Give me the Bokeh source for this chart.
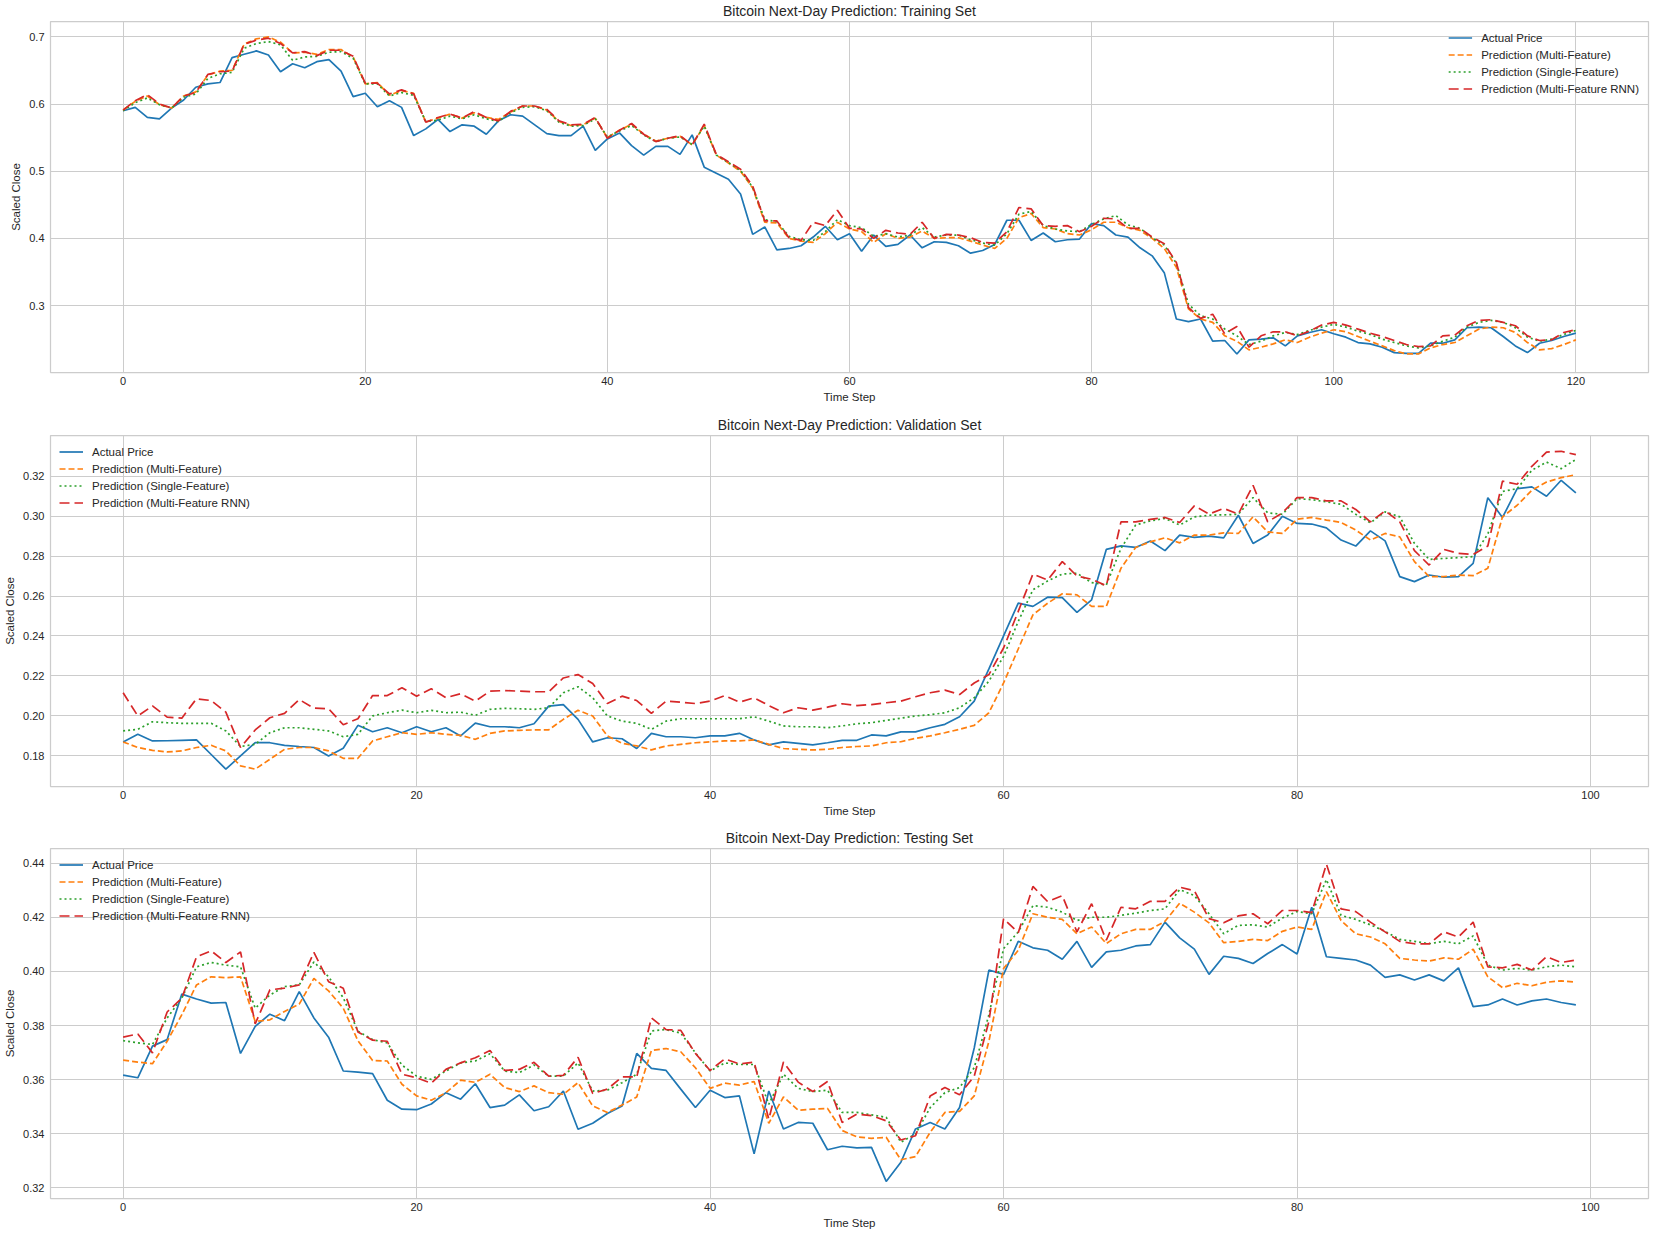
from bokeh.plotting import figure
from bokeh.layouts import column
from bokeh.models import Range1d, FixedTicker, PrintfTickFormatter
from bokeh.embed import file_html
from bokeh.resources import INLINE

# ---------------- data ----------------
train_actual = [
    0.590, 0.595, 0.580, 0.578, 0.594, 0.606, 0.625, 0.630, 0.632, 0.669,
    0.674, 0.679, 0.673, 0.648, 0.660, 0.654, 0.663, 0.666, 0.649, 0.611,
    0.616, 0.596, 0.605, 0.595, 0.553, 0.563, 0.577, 0.559, 0.569, 0.567,
    0.555, 0.575, 0.584, 0.582, 0.569, 0.556, 0.553, 0.553, 0.567, 0.531,
    0.548, 0.557, 0.538, 0.524, 0.537, 0.537, 0.525, 0.554, 0.506, 0.497,
    0.488, 0.466, 0.406, 0.417, 0.383, 0.385, 0.389, 0.402, 0.418, 0.398,
    0.407, 0.381, 0.405, 0.388, 0.391, 0.405, 0.386, 0.395, 0.394, 0.389,
    0.378, 0.382, 0.391, 0.427, 0.427, 0.397, 0.408, 0.395, 0.398, 0.399,
    0.422, 0.419, 0.405, 0.402, 0.386, 0.374, 0.349, 0.280, 0.276, 0.280,
    0.247, 0.248, 0.228, 0.249, 0.250, 0.252, 0.240, 0.255, 0.260, 0.264,
    0.258, 0.253, 0.245, 0.243, 0.238, 0.230, 0.229, 0.229, 0.244, 0.244,
    0.249, 0.267, 0.268, 0.267, 0.254, 0.240, 0.230, 0.244, 0.248, 0.254,
    0.259]
train_multi = [
    0.591, 0.604, 0.612, 0.599, 0.594, 0.612, 0.618, 0.643, 0.649, 0.650,
    0.689, 0.697, 0.700, 0.692, 0.676, 0.677, 0.674, 0.681, 0.681, 0.670,
    0.630, 0.632, 0.613, 0.620, 0.616, 0.573, 0.579, 0.585, 0.579, 0.587,
    0.580, 0.577, 0.588, 0.597, 0.597, 0.591, 0.574, 0.568, 0.569, 0.579,
    0.550, 0.561, 0.570, 0.555, 0.545, 0.549, 0.552, 0.539, 0.568, 0.524,
    0.512, 0.500, 0.475, 0.424, 0.423, 0.400, 0.396, 0.394, 0.407, 0.424,
    0.414, 0.410, 0.394, 0.407, 0.400, 0.402, 0.411, 0.400, 0.401, 0.401,
    0.396, 0.390, 0.385, 0.400, 0.431, 0.437, 0.416, 0.414, 0.407, 0.405,
    0.413, 0.424, 0.424, 0.416, 0.412, 0.400, 0.385, 0.357, 0.295, 0.280,
    0.275, 0.255, 0.247, 0.234, 0.238, 0.243, 0.249, 0.245, 0.253, 0.259,
    0.264, 0.261, 0.254, 0.247, 0.240, 0.233, 0.228, 0.228, 0.237, 0.242,
    0.245, 0.255, 0.265, 0.268, 0.267, 0.260, 0.245, 0.234, 0.236, 0.242,
    0.249]
train_single = [
    0.590, 0.602, 0.609, 0.599, 0.594, 0.610, 0.615, 0.638, 0.645, 0.647,
    0.683, 0.690, 0.693, 0.688, 0.665, 0.670, 0.671, 0.677, 0.678, 0.668,
    0.630, 0.630, 0.612, 0.617, 0.613, 0.574, 0.576, 0.582, 0.578, 0.584,
    0.578, 0.574, 0.587, 0.595, 0.596, 0.590, 0.573, 0.567, 0.568, 0.578,
    0.551, 0.560, 0.568, 0.554, 0.544, 0.549, 0.551, 0.540, 0.567, 0.524,
    0.513, 0.501, 0.476, 0.428, 0.425, 0.403, 0.398, 0.397, 0.410, 0.428,
    0.419, 0.416, 0.403, 0.407, 0.402, 0.405, 0.416, 0.402, 0.405, 0.405,
    0.398, 0.393, 0.390, 0.407, 0.436, 0.440, 0.419, 0.414, 0.411, 0.410,
    0.421, 0.429, 0.434, 0.420, 0.415, 0.401, 0.390, 0.363, 0.302, 0.285,
    0.280, 0.265, 0.255, 0.242, 0.247, 0.255, 0.260, 0.257, 0.263, 0.268,
    0.272, 0.268, 0.262, 0.257, 0.250, 0.245, 0.240, 0.237, 0.240, 0.247,
    0.253, 0.268, 0.275, 0.278, 0.275, 0.267, 0.253, 0.247, 0.250, 0.257,
    0.263]
train_rnn = [
    0.591, 0.605, 0.614, 0.600, 0.594, 0.612, 0.617, 0.644, 0.648, 0.649,
    0.689, 0.695, 0.698, 0.690, 0.676, 0.678, 0.672, 0.680, 0.680, 0.671,
    0.631, 0.631, 0.615, 0.621, 0.615, 0.573, 0.580, 0.585, 0.579, 0.589,
    0.580, 0.575, 0.589, 0.597, 0.597, 0.592, 0.575, 0.569, 0.570, 0.580,
    0.549, 0.561, 0.571, 0.555, 0.544, 0.549, 0.553, 0.539, 0.570, 0.525,
    0.514, 0.503, 0.478, 0.426, 0.426, 0.401, 0.397, 0.424, 0.419, 0.442,
    0.415, 0.414, 0.400, 0.412, 0.408, 0.406, 0.424, 0.400, 0.406, 0.405,
    0.401, 0.394, 0.393, 0.410, 0.446, 0.444, 0.419, 0.418, 0.419, 0.410,
    0.418, 0.430, 0.429, 0.415, 0.415, 0.402, 0.392, 0.364, 0.297, 0.281,
    0.287, 0.258, 0.269, 0.238, 0.255, 0.261, 0.261, 0.255, 0.262, 0.271,
    0.275, 0.271, 0.265, 0.259, 0.254, 0.248, 0.242, 0.239, 0.240, 0.255,
    0.256, 0.270, 0.278, 0.279, 0.275, 0.270, 0.255, 0.248, 0.249, 0.260,
    0.264]

val_actual = [
    0.1870, 0.1908, 0.1875, 0.1876, 0.1878, 0.1880, 0.1807, 0.1734, 0.1800, 0.1866,
    0.1866, 0.1853, 0.1847, 0.1842, 0.1800, 0.1838, 0.1953, 0.1921, 0.1941, 0.1916,
    0.1946, 0.1921, 0.1941, 0.1900, 0.1964, 0.1946, 0.1946, 0.1941, 0.1961, 0.2049,
    0.2057, 0.1983, 0.1870, 0.1891, 0.1886, 0.1837, 0.1913, 0.1896, 0.1896, 0.1891,
    0.1900, 0.1900, 0.1913, 0.1880, 0.1855, 0.1870, 0.1863, 0.1855, 0.1866, 0.1878,
    0.1878, 0.1905, 0.1900, 0.1920, 0.1920, 0.1941, 0.1958, 0.1996, 0.2074, 0.2235,
    0.2401, 0.2564, 0.2548, 0.2594, 0.2592, 0.2518, 0.2581, 0.2833, 0.2851, 0.2843,
    0.2875, 0.2827, 0.2905, 0.2893, 0.2900, 0.2891, 0.3004, 0.2863, 0.2905, 0.2999,
    0.2963, 0.2960, 0.2941, 0.2880, 0.2850, 0.2926, 0.2876, 0.2697, 0.2672, 0.2705,
    0.2694, 0.2697, 0.2763, 0.3092, 0.2993, 0.3137, 0.3146, 0.3099, 0.3179, 0.3116]
val_multi = [
    0.1870, 0.1842, 0.1828, 0.1820, 0.1825, 0.1842, 0.1853, 0.1825, 0.1750, 0.1734,
    0.1783, 0.1833, 0.1842, 0.1842, 0.1825, 0.1788, 0.1788, 0.1875, 0.1896, 0.1916,
    0.1908, 0.1916, 0.1908, 0.1903, 0.1883, 0.1913, 0.1925, 0.1928, 0.1930, 0.1930,
    0.1983, 0.2028, 0.2000, 0.1900, 0.1863, 0.1850, 0.1830, 0.1850, 0.1858, 0.1866,
    0.1870, 0.1875, 0.1875, 0.1880, 0.1858, 0.1837, 0.1833, 0.1830, 0.1833, 0.1842,
    0.1847, 0.1850, 0.1866, 0.1871, 0.1888, 0.1900, 0.1916, 0.1933, 0.1953, 0.2016,
    0.2165, 0.2335, 0.2506, 0.2564, 0.2611, 0.2606, 0.2548, 0.2548, 0.2739, 0.2843,
    0.2871, 0.2891, 0.2866, 0.2905, 0.2905, 0.2916, 0.2913, 0.2996, 0.2921, 0.2913,
    0.2984, 0.2993, 0.2980, 0.2968, 0.2930, 0.2880, 0.2913, 0.2896, 0.2772, 0.2697,
    0.2697, 0.2705, 0.2702, 0.2739, 0.2996, 0.3054, 0.3129, 0.3170, 0.3192, 0.3207]
val_single = [
    0.1925, 0.1933, 0.1971, 0.1966, 0.1963, 0.1963, 0.1963, 0.1925, 0.1847, 0.1858,
    0.1916, 0.1941, 0.1941, 0.1933, 0.1925, 0.1896, 0.1908, 0.2000, 0.2016, 0.2029,
    0.2016, 0.2028, 0.2016, 0.2019, 0.2003, 0.2033, 0.2038, 0.2036, 0.2033, 0.2041,
    0.2116, 0.2146, 0.2091, 0.2000, 0.1974, 0.1963, 0.1933, 0.1974, 0.1986, 0.1986,
    0.1986, 0.1986, 0.1986, 0.1996, 0.1974, 0.1950, 0.1946, 0.1946, 0.1941, 0.1950,
    0.1961, 0.1966, 0.1978, 0.1989, 0.2000, 0.2006, 0.2016, 0.2041, 0.2091, 0.2174,
    0.2298, 0.2473, 0.2631, 0.2675, 0.2710, 0.2714, 0.2667, 0.2655, 0.2838, 0.2955,
    0.2976, 0.2988, 0.2955, 0.2996, 0.3004, 0.3006, 0.3009, 0.3092, 0.3016, 0.3009,
    0.3087, 0.3082, 0.3071, 0.3059, 0.3009, 0.2966, 0.3021, 0.2996, 0.2863, 0.2783,
    0.2788, 0.2792, 0.2797, 0.2910, 0.3123, 0.3137, 0.3229, 0.3270, 0.3237, 0.3283]
val_rnn = [
    0.2116, 0.2000, 0.2050, 0.1994, 0.1989, 0.2086, 0.2077, 0.2019, 0.1842, 0.1930,
    0.1991, 0.2013, 0.2082, 0.2039, 0.2036, 0.1956, 0.1986, 0.2102, 0.2102, 0.2141,
    0.2099, 0.2136, 0.2091, 0.2111, 0.2074, 0.2124, 0.2127, 0.2124, 0.2121, 0.2121,
    0.2190, 0.2207, 0.2162, 0.2062, 0.2099, 0.2077, 0.2013, 0.2074, 0.2069, 0.2062,
    0.2074, 0.2102, 0.2069, 0.2091, 0.2052, 0.2016, 0.2041, 0.2029, 0.2044, 0.2061,
    0.2052, 0.2057, 0.2066, 0.2074, 0.2096, 0.2116, 0.2129, 0.2107, 0.2165, 0.2207,
    0.2340, 0.2523, 0.2710, 0.2680, 0.2772, 0.2700, 0.2684, 0.2651, 0.2971, 0.2971,
    0.2983, 0.2993, 0.2968, 0.3051, 0.3010, 0.3038, 0.3010, 0.3154, 0.2971, 0.3016,
    0.3092, 0.3092, 0.3076, 0.3076, 0.3033, 0.2971, 0.3026, 0.2971, 0.2827, 0.2755,
    0.2833, 0.2813, 0.2808, 0.2850, 0.3175, 0.3159, 0.3249, 0.3320, 0.3324, 0.3307]

test_actual = [
    0.3617, 0.3607, 0.3724, 0.3748, 0.3916, 0.3898, 0.3883, 0.3885, 0.3697, 0.3797,
    0.3842, 0.3818, 0.3925, 0.3828, 0.3757, 0.3632, 0.3628, 0.3622, 0.3524, 0.3491,
    0.3489, 0.3510, 0.3552, 0.3528, 0.3585, 0.3497, 0.3506, 0.3544, 0.3485, 0.3500,
    0.3558, 0.3417, 0.3439, 0.3475, 0.3503, 0.3697, 0.3642, 0.3634, 0.3565, 0.3497,
    0.3561, 0.3534, 0.3540, 0.3326, 0.3558, 0.3418, 0.3442, 0.3439, 0.3341, 0.3354,
    0.3348, 0.3350, 0.3224, 0.3295, 0.3418, 0.3442, 0.3418, 0.3497, 0.3717, 0.4005,
    0.3989, 0.4111, 0.4087, 0.4078, 0.4045, 0.4111, 0.4015, 0.4072, 0.4078, 0.4094,
    0.4099, 0.4182, 0.4124, 0.4082, 0.3989, 0.4056, 0.4048, 0.4029, 0.4066, 0.4099,
    0.4064, 0.4237, 0.4054, 0.4048, 0.4042, 0.4023, 0.3978, 0.3987, 0.3968, 0.3987,
    0.3965, 0.4013, 0.3870, 0.3876, 0.3898, 0.3876, 0.3891, 0.3898, 0.3885, 0.3876]
test_multi = [
    0.3672, 0.3665, 0.3659, 0.3742, 0.3840, 0.3950, 0.3980, 0.3977, 0.3980, 0.3815,
    0.3821, 0.3852, 0.3879, 0.3974, 0.3928, 0.3864, 0.3744, 0.3671, 0.3669, 0.3583,
    0.3540, 0.3524, 0.3552, 0.3598, 0.3590, 0.3620, 0.3571, 0.3556, 0.3577, 0.3552,
    0.3546, 0.3589, 0.3503, 0.3479, 0.3506, 0.3536, 0.3708, 0.3715, 0.3703, 0.3644,
    0.3568, 0.3587, 0.3580, 0.3593, 0.3439, 0.3536, 0.3487, 0.3491, 0.3494, 0.3412,
    0.3389, 0.3383, 0.3387, 0.3304, 0.3316, 0.3406, 0.3479, 0.3483, 0.3540, 0.3742,
    0.4011, 0.4078, 0.4213, 0.4200, 0.4192, 0.4139, 0.4164, 0.4103, 0.4139, 0.4155,
    0.4155, 0.4185, 0.4252, 0.4219, 0.4179, 0.4106, 0.4111, 0.4118, 0.4114, 0.4148,
    0.4164, 0.4155, 0.4295, 0.4188, 0.4139, 0.4127, 0.4102, 0.4048, 0.4042, 0.4038,
    0.4050, 0.4045, 0.4082, 0.3980, 0.3940, 0.3956, 0.3947, 0.3960, 0.3965, 0.3960]
test_single = [
    0.3744, 0.3736, 0.3730, 0.3828, 0.3901, 0.4017, 0.4033, 0.4023, 0.4017, 0.3864,
    0.3913, 0.3944, 0.3950, 0.4035, 0.3980, 0.3903, 0.3779, 0.3748, 0.3736, 0.3654,
    0.3613, 0.3601, 0.3632, 0.3662, 0.3669, 0.3696, 0.3632, 0.3626, 0.3654, 0.3613,
    0.3613, 0.3662, 0.3558, 0.3561, 0.3589, 0.3620, 0.3780, 0.3785, 0.3772, 0.3699,
    0.3632, 0.3662, 0.3656, 0.3656, 0.3509, 0.3620, 0.3568, 0.3556, 0.3561, 0.3479,
    0.3479, 0.3470, 0.3461, 0.3369, 0.3399, 0.3497, 0.3552, 0.3571, 0.3644, 0.3840,
    0.4084, 0.4146, 0.4243, 0.4237, 0.4219, 0.4188, 0.4200, 0.4200, 0.4207, 0.4215,
    0.4225, 0.4231, 0.4302, 0.4280, 0.4213, 0.4139, 0.4170, 0.4172, 0.4164, 0.4197,
    0.4221, 0.4213, 0.4339, 0.4207, 0.4192, 0.4172, 0.4148, 0.4118, 0.4111, 0.4102,
    0.4111, 0.4102, 0.4131, 0.4023, 0.4005, 0.4011, 0.4005, 0.4017, 0.4023, 0.4017]
test_rnn = [
    0.3757, 0.3769, 0.3699, 0.3850, 0.3901, 0.4054, 0.4076, 0.4033, 0.4072, 0.3806,
    0.3932, 0.3938, 0.3950, 0.4070, 0.3962, 0.3938, 0.3776, 0.3746, 0.3742, 0.3620,
    0.3607, 0.3587, 0.3638, 0.3662, 0.3681, 0.3708, 0.3634, 0.3638, 0.3664, 0.3613,
    0.3616, 0.3683, 0.3549, 0.3565, 0.3610, 0.3610, 0.3828, 0.3785, 0.3782, 0.3697,
    0.3634, 0.3677, 0.3658, 0.3665, 0.3454, 0.3665, 0.3591, 0.3556, 0.3593, 0.3442,
    0.3473, 0.3467, 0.3448, 0.3377, 0.3393, 0.3540, 0.3571, 0.3544, 0.3613, 0.3815,
    0.4195, 0.4143, 0.4314, 0.4258, 0.4280, 0.4146, 0.4250, 0.4115, 0.4237, 0.4231,
    0.4259, 0.4259, 0.4311, 0.4298, 0.4195, 0.4180, 0.4205, 0.4213, 0.4176, 0.4225,
    0.4225, 0.4217, 0.4396, 0.4231, 0.4221, 0.4182, 0.4146, 0.4111, 0.4102, 0.4102,
    0.4146, 0.4127, 0.4182, 0.4017, 0.4013, 0.4026, 0.4005, 0.4054, 0.4033, 0.4042]

x_ticks_train = [0, 20, 40, 60, 80, 100, 120]
x_ticks_other = [0, 20, 40, 60, 80, 100]
y_ticks_train = [0.3, 0.4, 0.5, 0.6, 0.7]
y_ticks_val = [0.18, 0.20, 0.22, 0.24, 0.26, 0.28, 0.30, 0.32]
y_ticks_test = [0.32, 0.34, 0.36, 0.38, 0.40, 0.42, 0.44]

labels = ["Actual Price", "Prediction (Multi-Feature)",
          "Prediction (Single-Feature)", "Prediction (Multi-Feature RNN)"]

# ---------------- style ----------------
FONT = "Liberation Sans"
TXT = "#262626"
GRID = "#cccccc"
COLORS = ["#1f77b4", "#ff7f0e", "#2ca02c", "#d62728"]
DASHES = ["solid", "6 3", "2 3", "10 5"]
LW = 1.7


def make_fig(title, series, xr, yr, xticks, yticks, yfmt, height, top, bottom, legend_loc):
    p = figure(width=1662, height=height,
               x_range=Range1d(*xr), y_range=Range1d(*yr),
               output_backend="svg", toolbar_location=None,
               min_border_left=50, min_border_right=14,
               min_border_top=top, min_border_bottom=bottom,
               background_fill_color="white", border_fill_color="white")
    p.title.text = title
    p.title.align = "center"
    p.title.vertical_align = "top"
    p.title.text_font = FONT
    p.title.text_font_size = "14px"
    p.title.text_font_style = "normal"
    p.title.text_color = TXT
    p.title.standoff = 2

    p.outline_line_color = GRID
    p.outline_line_width = 1.25

    for ax in (p.xaxis, p.yaxis):
        ax.axis_line_color = None
        ax.major_tick_in = 0
        ax.major_tick_out = 0
        ax.minor_tick_in = 0
        ax.minor_tick_out = 0
        ax.major_label_text_font = FONT
        ax.major_label_text_font_size = "11px"
        ax.major_label_text_color = TXT
        ax.axis_label_text_font = FONT
        ax.axis_label_text_font_size = "11.5px"
        ax.axis_label_text_font_style = "normal"
        ax.axis_label_text_color = TXT

    p.xaxis.major_label_standoff = 4
    p.xaxis.axis_label_standoff = 3
    p.yaxis.major_label_standoff = 6
    p.yaxis.axis_label_standoff = 4

    p.xaxis.ticker = FixedTicker(ticks=xticks)
    p.yaxis.ticker = FixedTicker(ticks=yticks)
    p.yaxis.formatter = PrintfTickFormatter(format=yfmt)
    p.xaxis.axis_label = "Time Step"
    p.yaxis.axis_label = "Scaled Close"

    p.xgrid.grid_line_color = GRID
    p.ygrid.grid_line_color = GRID
    p.xgrid.grid_line_width = 1
    p.ygrid.grid_line_width = 1

    x = list(range(len(series[0])))
    for ys, col, dash, lab in zip(series, COLORS, DASHES, labels):
        p.line(x, ys, line_color=col, line_width=LW, line_dash=dash, legend_label=lab)

    lg = p.legend[0]
    lg.location = legend_loc
    lg.border_line_alpha = 0
    lg.background_fill_alpha = 0
    lg.margin = 0
    lg.padding = 9
    lg.spacing = 2
    lg.label_height = 15
    lg.glyph_height = 15
    lg.glyph_width = 24
    lg.label_standoff = 9
    lg.label_text_font = FONT
    lg.label_text_font_size = "11.5px"
    lg.label_text_color = TXT
    return p


p1 = make_fig("Bitcoin Next-Day Prediction: Training Set",
              [train_actual, train_multi, train_single, train_rnn],
              (-6, 126), (0.2004, 0.7228), x_ticks_train, y_ticks_train, "%.1f",
              415, 21, 43, "top_right")
p2 = make_fig("Bitcoin Next-Day Prediction: Validation Set",
              [val_actual, val_multi, val_single, val_rnn],
              (-4.95, 103.95), (0.1647, 0.3403), x_ticks_other, y_ticks_val, "%.2f",
              413, 18, 42, "top_left")
p3 = make_fig("Bitcoin Next-Day Prediction: Testing Set",
              [test_actual, test_multi, test_single, test_rnn],
              (-4.95, 103.95), (0.3161, 0.4454), x_ticks_other, y_ticks_test, "%.2f",
              406, 18, 36, "top_left")

layout = column(p1, p2, p3, spacing=0)
open("out.html", "w").write(file_html(layout, INLINE))
